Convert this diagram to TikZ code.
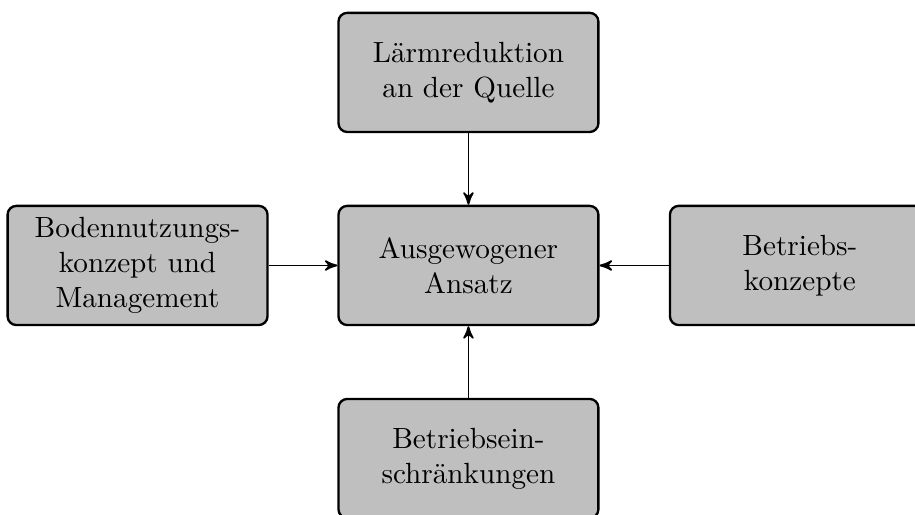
\documentclass[tikz,border=0pt]{standalone}
\usepackage{tikz}
\usetikzlibrary{arrows}
\usetikzlibrary{positioning}
\tikzset{measure/.style={draw,thick,fill=lightgray,rounded corners=3pt,
    align=center,minimum width=89pt,minimum height=40.8pt,inner sep=2pt}}

\begin{document}
\begin{tikzpicture}[->,>=stealth',
      on grid,
      semithick]

    \useasboundingbox (-160.4pt,-85.1pt) rectangle (152.9pt,90.9pt);

    \node[measure]
      (Ansatz) at (0,0) {Ausgewogener\\Ansatz};
    \node[measure]
      (Quelle) [above=66.1pt of Ansatz] {L\"armreduktion\\an der Quelle};
    \node[measure]
      (Bodennutzung) [left=113.3pt of Ansatz] {Bodennutzungs-\\konzept und\\Management};
    \node[measure]
      (Betriebskonzepte) [right=113.5pt of Ansatz] {Betriebs-\\konzepte};
    \node[measure]
      (Einschraenkungen) [below=66.1pt of Ansatz] {Betriebsein-\\schr\"ankungen};

    \path[->]
      (Quelle) edge (Ansatz)
      (Bodennutzung) edge (Ansatz)
      (Betriebskonzepte) edge (Ansatz)
      (Einschraenkungen) edge (Ansatz);

  \end{tikzpicture}
\end{document}
